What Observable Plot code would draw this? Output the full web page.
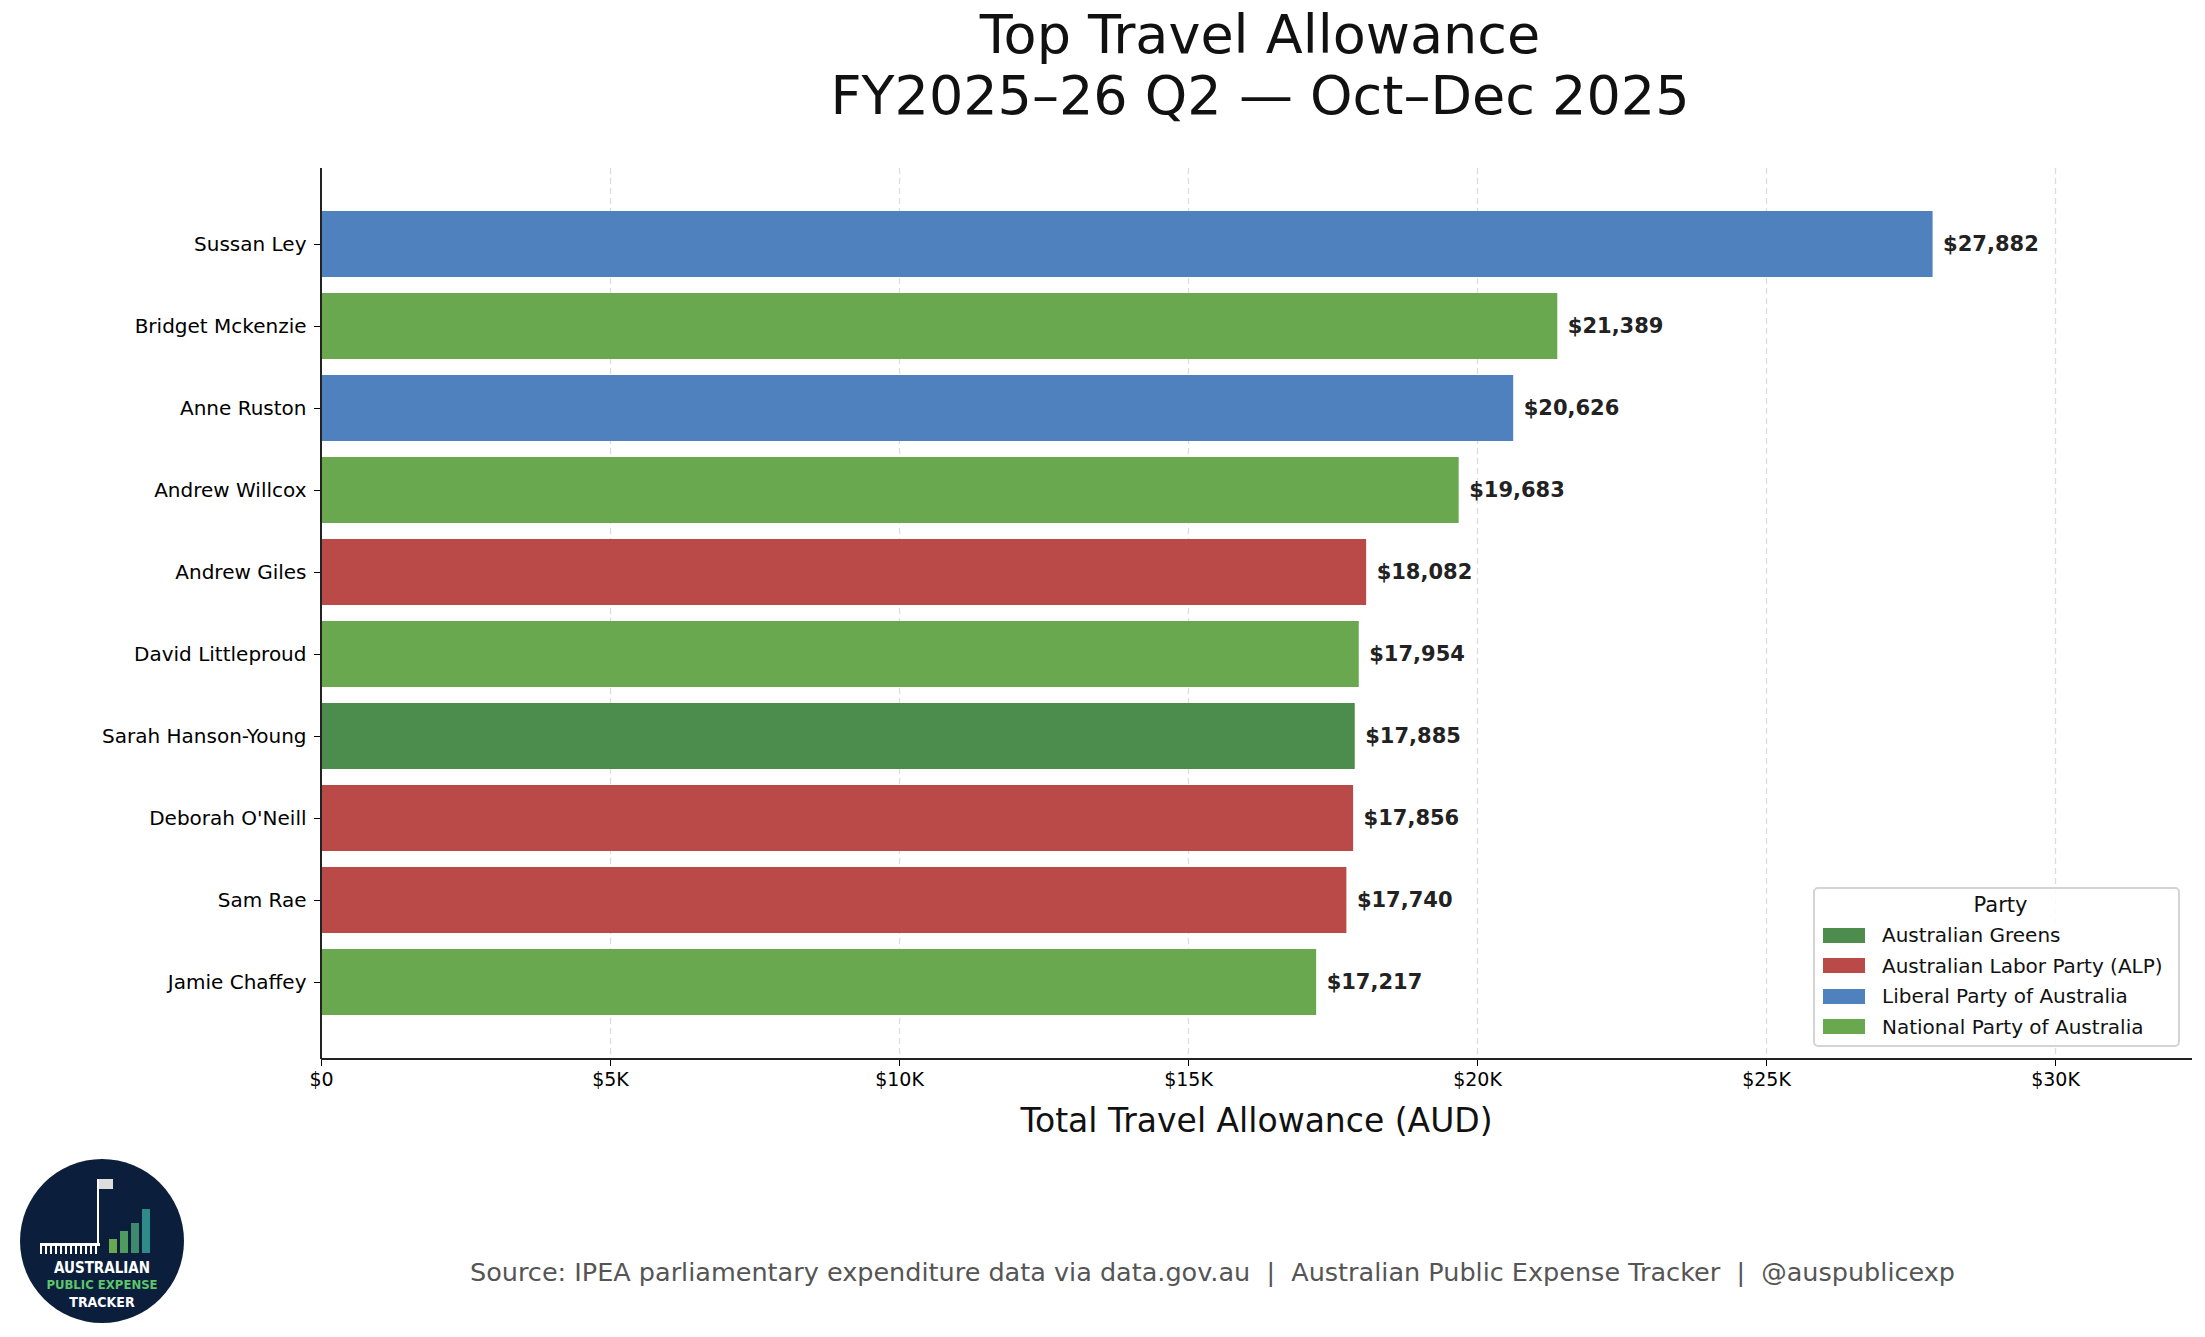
<!DOCTYPE html>
<html><head><meta charset="utf-8">
<script src="https://cdn.jsdelivr.net/npm/d3@7"></script>
<script src="https://cdn.jsdelivr.net/npm/@observablehq/plot@0.6"></script>
<style>
body{margin:0;background:#fff;font-family:"DejaVu Sans",sans-serif;}
#wrap{position:relative;width:2205px;height:1337px;}
.abs{position:absolute;}
</style></head><body><div id="wrap"></div>
<script>
const names = ["Sussan Ley","Bridget Mckenzie","Anne Ruston","Andrew Willcox","Andrew Giles","David Littleproud","Sarah Hanson-Young","Deborah O'Neill","Sam Rae","Jamie Chaffey"];
const values = [27882,21389,20626,19683,18082,17954,17885,17856,17740,17217];
const parties = ["Liberal Party of Australia","National Party of Australia","Liberal Party of Australia","National Party of Australia","Australian Labor Party (ALP)","National Party of Australia","Australian Greens","Australian Labor Party (ALP)","Australian Labor Party (ALP)","National Party of Australia"];
const partyNames = ["Australian Greens","Australian Labor Party (ALP)","Liberal Party of Australia","National Party of Australia"];
const partyColors = ["#4c8c4c","#b94a48","#4e81bd","#6aa84f"];
const xTicks = [0,5000,10000,15000,20000,25000,30000];
const xTickLabels = ["$0","$5K","$10K","$15K","$20K","$25K","$30K"];

const data = names.map((n,i)=>({name:n,value:values[i],party:parties[i]}));
const wrap = document.getElementById("wrap");

const chart = Plot.plot({
  width:2205, height:1337,
  marginLeft:321, marginRight:13, marginTop:168, marginBottom:278,
  style:{fontFamily:"DejaVu Sans", fontSize:"20px", color:"#000", background:"#fff"},
  x:{domain:[0,32370], label:null},
  y:{domain:names, padding:0.2, insetTop:25, insetBottom:26, label:null},
  color:{domain:partyNames, range:partyColors},
  marks:[
    Plot.ruleX(xTicks.slice(1),{stroke:"#ddd", strokeDasharray:"6,4", strokeWidth:1.3}),
    Plot.barX(data,{x:"value", y:"name", fill:"party"}),
    Plot.text(data,{x:"value", y:"name", text:d=>"$"+d3.format(",")(d.value), textAnchor:"start", dx:10, fontWeight:"bold", fontSize:21, fill:"#222"}),
    Plot.axisX({ticks:xTicks, tickFormat:(d)=>xTickLabels[xTicks.indexOf(d)], tickSize:7, tickPadding:6, fontSize:19, label:null}),
    Plot.axisY({tickSize:7, tickPadding:8, fontSize:20, label:null})
  ]
});
chart.style.position="absolute"; chart.style.left="0"; chart.style.top="0";
wrap.appendChild(chart);

const svg = d3.select(chart);
svg.append("line").attr("x1",321).attr("x2",2192).attr("y1",1059).attr("y2",1059).attr("stroke","#222").attr("stroke-width",2);
svg.append("line").attr("x1",321).attr("x2",321).attr("y1",168).attr("y2",1059).attr("stroke","#222").attr("stroke-width",2);

function addText(html, css){const d=document.createElement("div");d.className="abs";d.innerHTML=html;Object.assign(d.style,css);wrap.appendChild(d);return d;}
addText("Top Travel Allowance<br>FY2025–26 Q2 — Oct–Dec 2025",{left:"0",width:"2520px",top:"4px",textAlign:"center",fontSize:"54px",lineHeight:"61px",color:"#111"});
addText("Total Travel Allowance (AUD)",{left:"321px",width:"1871px",top:"1101px",textAlign:"center",fontSize:"33px",color:"#111"});
addText("Source: IPEA parliamentary expenditure data via data.gov.au &nbsp;|&nbsp; Australian Public Expense Tracker &nbsp;|&nbsp; @auspublicexp",{left:"0",width:"2425px",top:"1257px",textAlign:"center",fontSize:"25.5px",color:"#555",whiteSpace:"nowrap"});

let lg = `<div style="text-align:center;font-size:21px;margin-bottom:3px">Party</div>`;
partyNames.forEach((p,i)=>{lg+=`<div style="display:flex;align-items:center;height:30.5px;font-size:20px;white-space:nowrap"><span style="display:inline-block;width:42px;height:15px;background:${partyColors[i]};margin-right:17px;flex:none"></span>${p}</div>`;});
addText(lg,{left:"1813px",top:"887px",width:"367px",height:"160px",padding:"4px 0 4px 8px",border:"2px solid #d4d4d4",borderRadius:"5px",background:"rgba(255,255,255,0.85)",boxSizing:"border-box",color:"#111"});

addText(`<div style="position:relative;width:164px;height:164px;border-radius:50%;background:#0b1f3d;overflow:hidden;text-align:center;color:#fff;font-family:'DejaVu Sans Condensed','DejaVu Sans',sans-serif;font-weight:bold">
<div style="position:absolute;left:20px;top:84px;width:60px;height:8px;border-top:3px solid #fff;background:repeating-linear-gradient(90deg,#fff 0 2px,transparent 2px 5px)"></div>
<div style="position:absolute;left:77px;top:20px;width:2px;height:64px;background:#fff"></div>
<div style="position:absolute;left:79px;top:20px;width:14px;height:10px;background:#ddd"></div>
<div style="position:absolute;left:89px;top:80px;width:8px;height:14px;background:#6aa84f"></div>
<div style="position:absolute;left:100px;top:72px;width:8px;height:22px;background:#4f9a5f"></div>
<div style="position:absolute;left:111px;top:64px;width:8px;height:30px;background:#3d8a6c"></div>
<div style="position:absolute;left:122px;top:50px;width:8px;height:44px;background:#2f8a8a"></div>
<div style="position:absolute;left:0;width:164px;top:100px;font-size:15px">AUSTRALIAN</div>
<div style="position:absolute;left:0;width:164px;top:118px;font-size:13px;color:#5fc46a">PUBLIC EXPENSE</div>
<div style="position:absolute;left:0;width:164px;top:135px;font-size:14px">TRACKER</div>
</div>`,{left:"20px",top:"1159px"});
</script></body></html>
